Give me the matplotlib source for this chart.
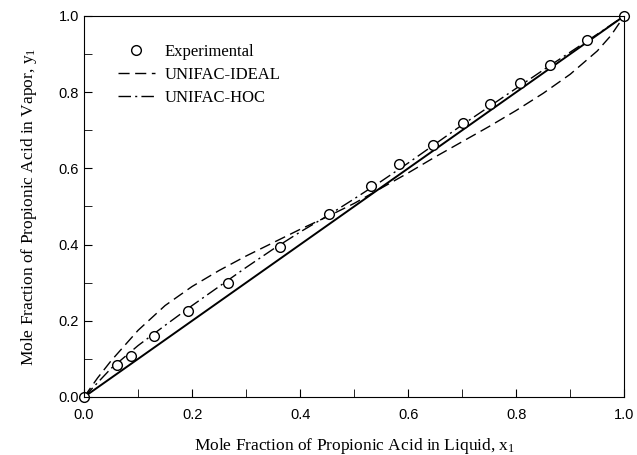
import numpy as np
import matplotlib.pyplot as plt

# experimental x-y data
x_exp = [0.0, 0.061, 0.087, 0.130, 0.193, 0.267, 0.363, 0.454, 0.531, 0.583,
         0.646, 0.702, 0.752, 0.807, 0.863, 0.931, 1.0]
y_exp = [0.0, 0.084, 0.108, 0.160, 0.226, 0.299, 0.394, 0.480, 0.554, 0.612,
         0.661, 0.719, 0.769, 0.824, 0.871, 0.937, 1.0]

# UNIFAC-IDEAL curve
x_ideal = [0.0, 0.025, 0.05, 0.1, 0.15, 0.2, 0.25, 0.3, 0.35, 0.4, 0.45, 0.5,
           0.55, 0.6, 0.65, 0.7, 0.75, 0.8, 0.85, 0.9, 0.95, 0.975, 1.0]
y_ideal = [0.0, 0.05, 0.095, 0.175, 0.24, 0.29, 0.332, 0.37, 0.405, 0.44, 0.473, 0.508,
           0.548, 0.588, 0.63, 0.67, 0.71, 0.752, 0.797, 0.847, 0.908, 0.948, 1.0]

# UNIFAC-HOC curve
x_hoc = [0.0, 0.05, 0.1, 0.15, 0.2, 0.25, 0.3, 0.35, 0.4, 0.45, 0.5, 0.55,
         0.6, 0.65, 0.7, 0.75, 0.8, 0.85, 0.9, 0.95, 1.0]
y_hoc = [0.0, 0.075, 0.135, 0.188, 0.24, 0.29, 0.34, 0.388, 0.433, 0.475, 0.52, 0.566,
         0.614, 0.664, 0.714, 0.762, 0.81, 0.858, 0.905, 0.952, 1.0]

# diagonal
x_diag = [0.0, 1.0]
y_diag = [0.0, 1.0]

plt.rcParams['font.family'] = 'Liberation Sans'
serif = 'Liberation Serif'

fig = plt.figure(figsize=(6.37, 4.55), dpi=100)
ax = fig.add_axes([0.132, 0.1275, 0.848, 0.8375])

ax.plot(x_diag, y_diag, color='black', lw=1.4)
l2, = ax.plot(x_ideal, y_ideal, color='black', lw=1.0, dashes=(8, 4), label='UNIFAC-IDEAL')
l3, = ax.plot(x_hoc, y_hoc, color='black', lw=1.0, dashes=(9, 3, 1.5, 3), label='UNIFAC-HOC')
l1, = ax.plot(x_exp, y_exp, 'o', mfc='white', mec='black', mew=1.0, ms=7,
              ls='none', clip_on=False, label='Experimental')

ax.set_xlim(0, 1)
ax.set_ylim(0, 1)
ax.set_xticks(np.arange(0, 1.01, 0.2))
ax.set_yticks(np.arange(0, 1.01, 0.2))
ax.set_xticks(np.arange(0.1, 1.0, 0.2), minor=True)
ax.set_yticks(np.arange(0.1, 1.0, 0.2), minor=True)
ax.xaxis.set_major_formatter(plt.FormatStrFormatter('%.1f'))
ax.yaxis.set_major_formatter(plt.FormatStrFormatter('%.1f'))
ax.tick_params(which='both', direction='in', labelsize=10.5, length=6)
ax.tick_params(axis='x', pad=8)

ax.set_xlabel(r'Mole Fraction of Propionic Acid in Liquid, $\mathregular{x_1}$',
              fontsize=12.5, family=serif, labelpad=10)
ax.set_ylabel(r'Mole Fraction of Propionic Acid in Vapor, $\mathregular{y_1}$',
              fontsize=12.5, family=serif, labelpad=14)

leg = ax.legend(handles=[l1, l2, l3], loc='upper left', frameon=False,
                prop={'family': serif, 'size': 12}, handlelength=2.2,
                handletextpad=0.6, bbox_to_anchor=(0.035, 0.965), labelspacing=0.42)

fig.savefig('out.png', dpi=100)
